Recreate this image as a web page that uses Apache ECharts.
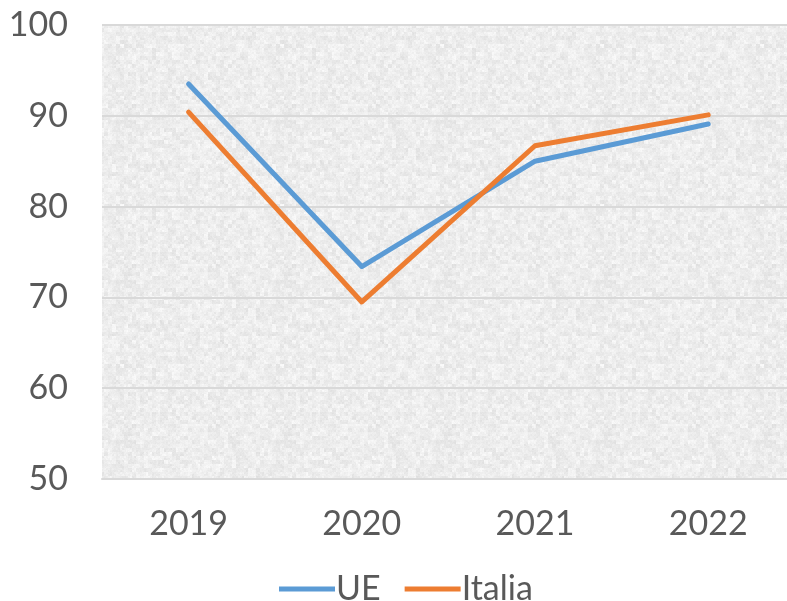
<!DOCTYPE html>
<html>
<head>
<meta charset="utf-8">
<script src="https://cdn.jsdelivr.net/npm/echarts@6/dist/echarts.min.js"></script>
<style>
html,body{margin:0;padding:0;background:#fff;}
#chart{width:787px;height:601px;}
</style>
</head>
<body>
<div id="chart"></div>
<script>
var categories = ['2019', '2020', '2021', '2022'];
var ueValues = [93.5, 73.4, 85.0, 89.1];
var italiaValues = [90.4, 69.5, 86.7, 90.1];
var yTicks = [50, 60, 70, 80, 90, 100];

// decorative mottled background texture (deterministic hash noise)
function makeTexture() {
  var c = document.createElement('canvas');
  c.width = 160; c.height = 160;
  var ctx = c.getContext('2d');
  var img = ctx.createImageData(160, 160);
  function h(x, y) {
    var n = (x * 374761393 + y * 668265263) | 0;
    n = (n ^ (n >>> 13)) * 1274126177 | 0;
    n = n ^ (n >>> 16);
    return ((n >>> 0) % 1000) / 1000;
  }
  for (var y = 0; y < 160; y++) {
    for (var x = 0; x < 160; x++) {
      var v = (h(x >> 2, y >> 2) * 0.5 + h(x >> 1, y >> 1) * 0.3 + h(x, y) * 0.2);
      var g = Math.round(222 + v * 30);
      var i = (y * 160 + x) * 4;
      img.data[i] = g; img.data[i + 1] = g; img.data[i + 2] = g; img.data[i + 3] = 255;
    }
  }
  ctx.putImageData(img, 0, 0);
  return c;
}

var FONT = "'Lato', 'DejaVu Sans', sans-serif";
var ueData = categories.map(function (c, i) { return [i, ueValues[i]]; });
var itData = categories.map(function (c, i) { return [i, italiaValues[i]]; });

var chart = echarts.init(document.getElementById('chart'));
chart.setOption({
  animation: false,
  backgroundColor: '#ffffff',
  grid: {
    left: 102, top: 25, right: 0, bottom: 122,
    show: true, backgroundColor: { image: makeTexture(), repeat: 'repeat' }, borderWidth: 0
  },
  legend: {
    top: 567,
    left: 274,
    itemWidth: 56,
    itemHeight: 5,
    itemGap: 24,
    icon: 'path://M0,0 L56,0 L56,5 L0,5 Z',
    textStyle: { fontFamily: FONT, fontSize: 34, color: '#595959', padding: [0, 0, 0, -4] },
    data: ['UE', 'Italia']
  },
  xAxis: {
    type: 'value',
    min: -0.5,
    max: -0.5 + 685 / 173.2,
    axisLine: { show: true, onZero: false, lineStyle: { color: '#d9d9d9', width: 2 } },
    axisTick: { show: false },
    splitLine: { show: false },
    axisLabel: {
      customValues: [0, 1, 2, 3],
      formatter: function (v) { return categories[Math.round(v)]; },
      fontFamily: FONT, fontSize: 34, color: '#595959', margin: 28
    }
  },
  yAxis: {
    type: 'value',
    min: yTicks[0],
    max: yTicks[yTicks.length - 1],
    interval: 10,
    axisLine: { show: false },
    axisTick: { show: false },
    splitLine: { show: true, lineStyle: { color: '#d9d9d9', width: 2 } },
    axisLabel: { fontFamily: FONT, fontSize: 34, color: '#595959', margin: 34 }
  },
  series: [
    {
      name: 'UE', type: 'line', data: ueData,
      symbol: 'none',
      lineStyle: { color: '#5b9bd5', width: 5, cap: 'round', join: 'round' },
      itemStyle: { color: '#5b9bd5' }
    },
    {
      name: 'Italia', type: 'line', data: itData,
      symbol: 'none',
      lineStyle: { color: '#ed7d31', width: 5, cap: 'round', join: 'round' },
      itemStyle: { color: '#ed7d31' }
    }
  ]
});
</script>
</body>
</html>
